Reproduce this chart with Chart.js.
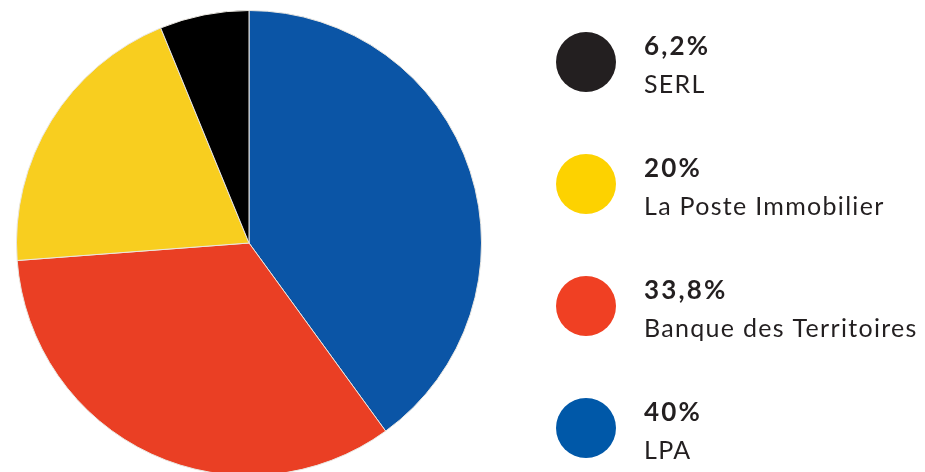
<!DOCTYPE html>
<html>
<head>
<meta charset="utf-8">
<script src="https://cdn.jsdelivr.net/npm/chart.js@4"></script>
<style>
  html, body { margin: 0; padding: 0; background: #fff; overflow: hidden; }
  #wrap { width: 925px; height: 480px; }
</style>
</head>
<body>
<div id="wrap"><canvas id="pie" width="925" height="480"></canvas></div>
<script>
// data, clockwise from 12 o'clock
var labels = ['LPA', 'Banque des Territoires', 'La Poste Immobilier', 'SERL']
var values = [40, 33.8, 20, 6.2]
var sliceColors = ['#0B55A6', '#EA3F24', '#F8CE1F', '#000000']
var dotColors = ['#0058A8', '#F04023', '#FDD200', '#231F20']

function pct(v){
    return String(v).replace('.', ',') + '%'
}

// legend drawn on the canvas, SERL first (reverse of slice order)
var sideLegend = {
    id: 'sideLegend',
    afterDraw: function(chart){
        var c = chart.ctx
        var n = labels.length
        c.save()
        for (var i = 0; i < n; i++) {
            var k = n - 1 - i
            var cy = 62 + i * 122
            c.beginPath()
            c.arc(586, cy, 30, 0, Math.PI * 2)
            c.fillStyle = dotColors[k]
            c.fill()
            c.fillStyle = '#231F20'
            c.textAlign = 'left'
            c.textBaseline = 'alphabetic'
            c.font = 'bold 26px Lato'
            c.letterSpacing = '2.2px'
            c.fillText(pct(values[k]), 644, 55 + i * 122)
            c.font = '25px Lato'
            c.letterSpacing = '1.3px'
            c.fillText(labels[k], 644, 93 + i * 122)
        }
        c.restore()
    }
}

var ctx = document.getElementById('pie').getContext('2d')
var chart1 = new Chart(ctx, {
    type: 'pie',
    plugins: [sideLegend],
    data: {
        labels: labels,
        datasets: [{
            data: values,
            backgroundColor: sliceColors,
            borderColor: '#e9e6e0',
            borderWidth: 1
        }]
    },
    options: {
        responsive: false,
        animation: false,
        layout: {
            padding: { left: 15, top: 10, right: 442, bottom: 4 }
        },
        plugins: {
            legend: { display: false },
            tooltip: { enabled: false }
        }
    }
})
</script>
</body>
</html>
